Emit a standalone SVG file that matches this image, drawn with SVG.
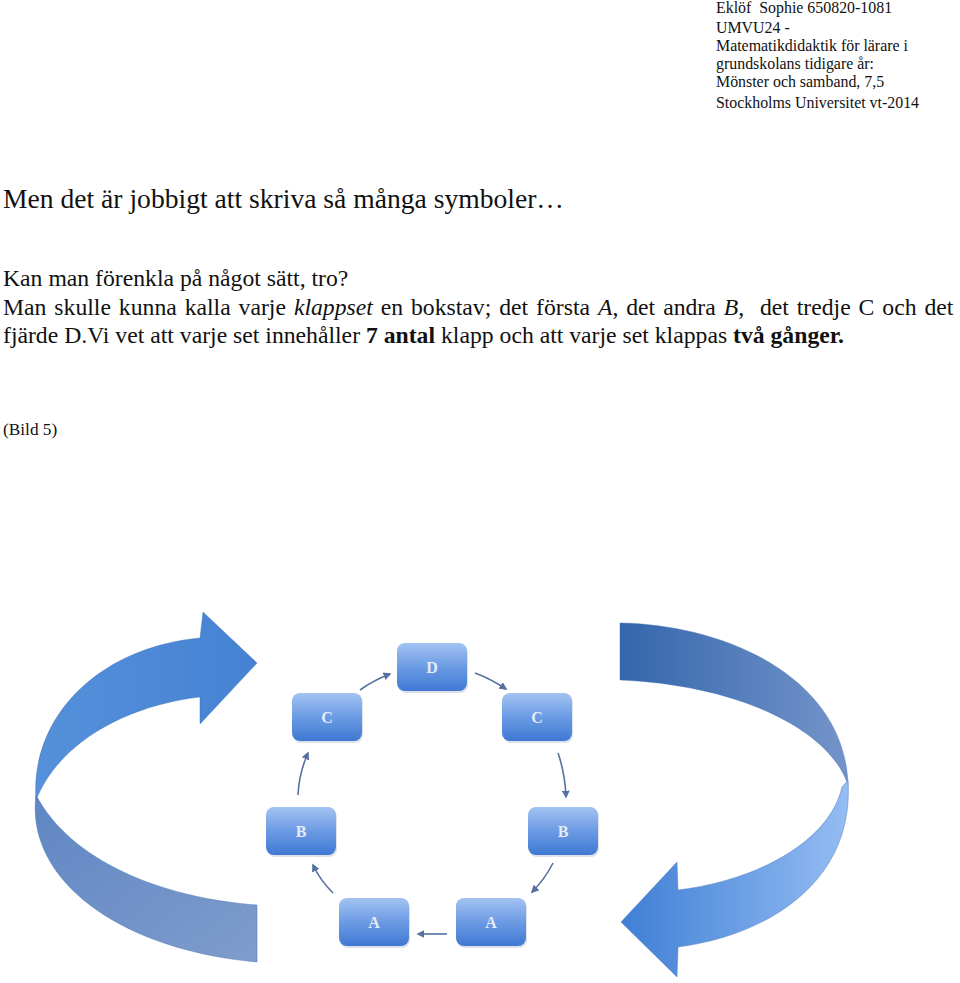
<svg xmlns="http://www.w3.org/2000/svg" width="960" height="983" viewBox="0 0 960 983">
<defs>
<style>
.hdr{font-family:"Liberation Serif","Times New Roman",serif;font-size:15.9px;fill:#111}
.body{font-family:"Liberation Serif","Times New Roman",serif;font-size:23.7px;fill:#111}
.title{font-family:"Liberation Serif","Times New Roman",serif;font-size:27.6px;fill:#111}
.node rect.box{fill:url(#ng)}
.node rect.sh{fill:#9aa9c4;opacity:0.35}
.node text{font-family:"Liberation Serif","DejaVu Serif",serif;font-size:16px;font-weight:bold;fill:#e4ebf7;text-anchor:middle}
.con path{fill:none;stroke:#5670a0;stroke-width:1.6;marker-end:url(#ah)}
.band{stroke:#3d6db3;stroke-width:0.7;stroke-opacity:0.6}
</style>
<linearGradient id="ng" x1="0" y1="0" x2="0" y2="1">
<stop offset="0" stop-color="#a3c3f2"/>
<stop offset="0.5" stop-color="#6c9be4"/>
<stop offset="1" stop-color="#3f78d3"/>
</linearGradient>
<linearGradient id="lu" x1="0" y1="0" x2="1" y2="0">
<stop offset="0" stop-color="#5590da"/>
<stop offset="1" stop-color="#4582d3"/>
</linearGradient>
<linearGradient id="ll" x1="0" y1="0" x2="1" y2="1">
<stop offset="0" stop-color="#5f86c3"/>
<stop offset="1" stop-color="#7f9ccc"/>
</linearGradient>
<linearGradient id="ru" gradientUnits="userSpaceOnUse" x1="620" y1="0" x2="850" y2="0">
<stop offset="0" stop-color="#3366ac"/>
<stop offset="1" stop-color="#7595ca"/>
</linearGradient>
<linearGradient id="rl" gradientUnits="userSpaceOnUse" x1="621" y1="0" x2="850" y2="0">
<stop offset="0" stop-color="#3f7fd5"/>
<stop offset="1" stop-color="#95bdf3"/>
</linearGradient>
<marker id="ah" viewBox="0 0 10 10" refX="8" refY="5" markerWidth="5" markerHeight="5" orient="auto" markerUnits="strokeWidth">
<path d="M0 0 L10 5 L0 10 Z" fill="#5670a0"/>
</marker>
</defs>
<rect width="960" height="983" fill="#ffffff"/>

<g id="header">
<text class="hdr" x="716" y="13" xml:space="preserve">Eklöf  Sophie 650820-1081</text>
<text class="hdr" x="716" y="33">UMVU24 -</text>
<text class="hdr" x="716" y="51">Matematikdidaktik för lärare i</text>
<text class="hdr" x="716" y="69">grundskolans tidigare år:</text>
<text class="hdr" x="716" y="87">Mönster och samband, 7,5</text>
<text class="hdr" x="716" y="108">Stockholms Universitet vt-2014</text>
</g>

<g id="text">
<text class="title" x="3" y="208">Men det är jobbigt att skriva så många symboler…</text>
<text class="body" x="3" y="286">Kan man förenkla på något sätt, tro?</text>
<text class="body" x="3" y="315" word-spacing="2" xml:space="preserve">Man skulle kunna kalla varje <tspan font-style="italic">klappset</tspan> en bokstav; det första <tspan font-style="italic">A</tspan>, det andra <tspan font-style="italic">B</tspan>,  det tredje C och det</text>
<text class="body" x="3" y="343">fjärde D.Vi vet att varje set innehåller <tspan font-weight="bold">7 antal</tspan> klapp och att varje set klappas <tspan font-weight="bold">två gånger.</tspan></text>
<text class="hdr" x="3" y="435" style="font-size:17.3px">(Bild 5)</text>
</g>

<g id="arrow-left">
<path class="band" fill="url(#ll)" d="M36 795 C25 880 120 950 257 962 L257 905 C160 898 70 860 36 795 Z"/>
<path class="band" fill="url(#lu)" d="M200 638 L203 612 L257 663 L200 724 L200 697 C130 705 60 740 36 800 C30 720 95 648 200 638 Z"/>
</g>

<g id="arrow-right">
<path class="band" fill="url(#ru)" d="M620 623 C730 625 845 680 848 785 C830 730 740 685 620 680 Z"/>
<path class="band" fill="url(#rl)" d="M848 780 C855 880 770 935 678 947 L677 977 L621 922 L677 862 L678 890 C760 880 830 840 842 787 Z"/>
</g>

<g id="connectors" class="con">
<path d="M360 690 Q374 680 390 674"/>
<path d="M475 673 Q491 679 506 689"/>
<path d="M558 753 Q565 773 566 797"/>
<path d="M553 863 Q545 879 532 892"/>
<path d="M447 934 L418 934"/>
<path d="M333 893 Q320 880 313 865"/>
<path d="M298 795 Q299 773 308 753"/>
</g>

<g id="node-D" class="node"><rect class="sh" x="398" y="645" width="70" height="48" rx="8"/><rect class="box" x="397" y="643" width="70" height="48" rx="8"/><text x="432" y="673">D</text></g>
<g id="node-C1" class="node"><rect class="sh" x="293" y="695" width="70" height="48" rx="8"/><rect class="box" x="292" y="693" width="70" height="48" rx="8"/><text x="327" y="723">C</text></g>
<g id="node-C2" class="node"><rect class="sh" x="503" y="695" width="70" height="48" rx="8"/><rect class="box" x="502" y="693" width="70" height="48" rx="8"/><text x="537" y="723">C</text></g>
<g id="node-B1" class="node"><rect class="sh" x="267" y="809" width="70" height="48" rx="8"/><rect class="box" x="266" y="807" width="70" height="48" rx="8"/><text x="301" y="837">B</text></g>
<g id="node-B2" class="node"><rect class="sh" x="529" y="809" width="70" height="48" rx="8"/><rect class="box" x="528" y="807" width="70" height="48" rx="8"/><text x="563" y="837">B</text></g>
<g id="node-A1" class="node"><rect class="sh" x="340" y="900" width="70" height="48" rx="8"/><rect class="box" x="339" y="898" width="70" height="48" rx="8"/><text x="374" y="928">A</text></g>
<g id="node-A2" class="node"><rect class="sh" x="457" y="900" width="70" height="48" rx="8"/><rect class="box" x="456" y="898" width="70" height="48" rx="8"/><text x="491" y="928">A</text></g>
</svg>
